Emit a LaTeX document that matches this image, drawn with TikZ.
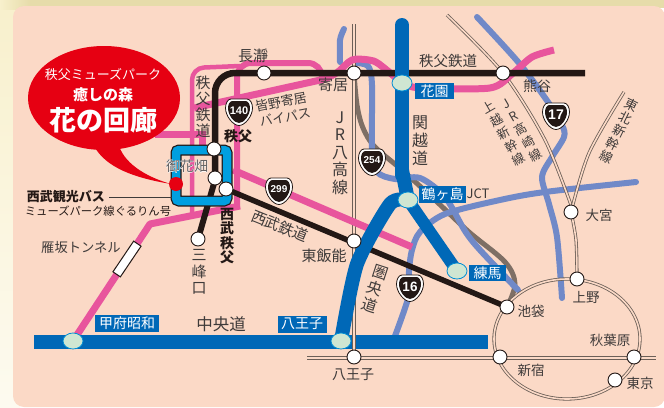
\documentclass[tikz,border=0pt]{standalone}
\usepackage{fontspec}
\setmainfont{Noto Sans CJK JP}
\newfontfamily\numfont{Liberation Sans}
\usetikzlibrary{shapes.geometric}
\pgfdeclarelayer{lines}
\pgfsetlayers{lines,main}
\definecolor{panel}{HTML}{FBD9C6}
\definecolor{creamA}{HTML}{E6DCAA}
\definecolor{creamB}{HTML}{F8F0CC}
\definecolor{pinkr}{HTML}{E8559D}
\definecolor{exblue}{HTML}{0068B7}
\definecolor{rdblue}{HTML}{7089C8}
\definecolor{brownr}{HTML}{7E6F65}
\definecolor{jrline}{HTML}{6B5F57}
\definecolor{blk}{HTML}{231815}
\definecolor{txt}{HTML}{3E3A39}
\definecolor{redc}{HTML}{E60012}
\definecolor{icg}{HTML}{CFE6D2}
\definecolor{cyanb}{HTML}{009FE0}
\newcommand\fs[1]{\fontsize{#1}{#1}\selectfont}
\newcommand\fsb[2]{\fontsize{#1}{#2}\selectfont}
\newcommand\halotext[1]{\rlap{\addfontfeature{FakeBold=4}\color{white}#1}#1}
\newcommand\shield[5]{%
  \begin{scope}[shift={(#2,#3)}]
    \fill[white,draw=blk,line width=.8pt] (-8,-13) -- (8,-13) .. controls (11,-13) and (13.5,-9) .. (13.5,-4) .. controls (13.5,4) and (6,13.5) .. (0,13.5) .. controls (-6,13.5) and (-13.5,4) .. (-13.5,-4) .. controls (-13.5,-9) and (-11,-13) .. (-8,-13) -- cycle;
    \fill[blk] (-6.5,-11) -- (6.5,-11) .. controls (9,-11) and (11,-8) .. (11,-4) .. controls (11,3) and (5,11) .. (0,11) .. controls (-5,11) and (-11,3) .. (-11,-4) .. controls (-11,-8) and (-9,-11) .. (-6.5,-11) -- cycle;
    \node[text=white,inner sep=0pt,font=\numfont\bfseries\fontsize{#5}{#5}\selectfont] (#1) at (0,-1.5) {#4};
  \end{scope}}
\tikzset{
  station/.style={circle,draw=blk,fill=white,line width=.9pt,minimum size=14pt,inner sep=0pt},
  ic/.style={ellipse,draw=cyanb!70!exblue,fill=icg,line width=.8pt,minimum width=20pt,minimum height=16pt,inner sep=0pt},
  pinkline/.style={draw=pinkr,line width=7pt},
  pinkthin/.style={draw=pinkr,line width=4.5pt},
  exway/.style={draw=exblue,line width=14pt},
  natroad/.style={draw=rdblue,line width=6pt,line cap=round},
  jr/.style={draw=jrline,line width=.8pt,double=panel,double distance=1.6pt},
  icbox/.style={fill=exblue,text=white,inner sep=0pt,minimum height=17pt,font=\fs{14}},
  lab/.style={text=txt,inner sep=0pt,font=\fs{14}},
  stack/.style={text=txt,inner sep=0pt,align=center}
}
\begin{document}
\begin{tikzpicture}[x=1pt,y=-1pt]
\useasboundingbox (0,0) rectangle (664,407);
% stations
\node[station] (nagatoro) at (264,73) {};
\node[station] (yorii) at (354,73) {};
\node[station] (kumagaya) at (503,73) {};
\node[station] (chichibu) at (214,149) {};
\node[station] (ohanabatake) at (215,178) {};
\node[station] (seibuch) at (226,189) {};
\node[station] (mitsumine) at (198,239) {};
\node[station] (higashihanno) at (354,241) {};
\node[station] (omiya) at (571,212) {};
\node[station] (ueno) at (577,279) {};
\node[station] (ikebukuro) at (507,307) {};
\node[station] (hachiojist) at (354,357) {};
\node[station] (shinjuku) at (500,357) {};
\node[station] (akihabara) at (634,357) {};
\node[station] (tokyo) at (615,380) {};
\node[ic] (hanazono) at (402,83) {};
\node[ic] (tsurugashima) at (408,200) {};
\node[ic] (nerima) at (457,271) {};
\node[ic] (hachioji) at (341,341) {};
\node[ic] (kofu) at (73,341) {};
\begin{pgfonlayer}{lines}
% background
\shade[top color=creamB,bottom color=white!70!creamB] (0,0) rectangle (20,407);
\fill[creamA] (0,0) rectangle (664,8);
\shade[left color=creamB,right color=creamA] (0,0) rectangle (30,9);
\fill[panel,rounded corners=11pt] (13,6) rectangle (665,407);
% brown road
\draw[brownr,line width=5pt] plot[smooth,tension=.55] coordinates {(yorii.center) (357,105) (363,128) (375,147) (402,170) (435,200) (469,232) (505,262) (515,284) (ikebukuro.center)};
% national roads
\draw[natroad] plot[smooth,tension=.5] coordinates {(344,29) (340,40) (340,62)};
\draw[natroad] plot[smooth,tension=.5] coordinates {(355,63) (368,66) (372,85) (372,150) (377,172) (395,179) (420,178) (445,197) (465,231) (480,250) (518,290)};
\draw[natroad] plot[smooth,tension=.5] coordinates {(636,182) (545,192) (500,200) (445,214) (420,232) (412,250) (409,271) (409,295) (395,336)};
\draw[natroad] plot[smooth,tension=.5] coordinates {(477,17) (519,63) (548,102) (562,125) (564,137) (552,157) (542,177) (549,204) (557,237) (562,298)};
% JR lines
\draw[jr] (354,24) -- (hachiojist.center);
\draw[jr] (307,358) -- (656,358);
\draw[jr] (567,339) ellipse [x radius=73, y radius=60];
\draw[jr] plot[smooth,tension=.5] coordinates {(447,15) (kumagaya.center) (545,140) (571,205)};
\draw[jr] plot[smooth,tension=.5] coordinates {(624,92) (589,153) (omiya.center)};
\draw[jr] plot[smooth,tension=.5] coordinates {(omiya.center) (576,240) (ueno.center)};
% pink toll roads
\draw[pinkline] (155,134) -- (202,134) -- (202,150);
\draw[pinkthin,rounded corners=12pt] (192,214) -- (192,68) -- (240,66);
\draw[pinkline,line width=6pt,rounded corners=14pt] (237,207) -- (237,63) -- (322,63) -- (322,80);
\draw[pinkline] (194,108) -- (325,79);
\draw[pinkline] plot[smooth,tension=.5] coordinates {(325,79) (338,72) (352,60) (369,60) (379,64) (hanazono.center)};
\draw[pinkline] plot[smooth,tension=.45] coordinates {(hanazono.center) (420,88) (490,88) (512,74) (532,57) (554,50)};
\draw[pinkline] (233,170) -- (412,247);
\draw[pinkline,line join=round] (240,206) -- (150,224) -- (kofu.center);
% black
\draw[blk,line width=6.5pt,rounded corners=20pt] (585,73) -- (215,73) -- (215,180);
\draw[blk,line width=6pt] (215,180) -- (mitsumine.center);
\draw[blk,line width=5.5pt] (seibuch.center) -- (ikebukuro.center);
% expressways
\draw[exway,line cap=round] (402,25) -- (402,175);
\draw[exway] plot[smooth,tension=.5] coordinates {(402,170) (tsurugashima.center)};
\draw[exway] plot[smooth,tension=.4] coordinates {(hachioji.center) (357,264) (390,204) (tsurugashima.center)};
\draw[exway,line width=12pt] (tsurugashima.center) -- (nerima.center);
\draw[exway] (34,342) -- (488,342);
\draw[jr] (354,325) -- (hachiojist.center);
% tunnel
\node[draw=blk,fill=white,line width=1pt,minimum width=37pt,minimum height=9pt,inner sep=0pt,rotate=56] (tunnel) at (127,259) {};
% square around the station group
\draw[blk,line width=11pt,rounded corners=3pt] (176,150) rectangle (227,201);
\draw[cyanb,line width=8.5pt,rounded corners=3pt] (176,150) rectangle (227,201);
\end{pgfonlayer}
\shield{r140}{239}{112}{140}{11}
\shield{r254}{372}{162}{254}{10}
\shield{r17}{556}{116}{17}{14}
\shield{r16}{410}{288}{16}{13.5}
\shield{r299}{279}{191}{299}{10}
% callout
\fill[redc] (104,98) ellipse [x radius=76, y radius=52];
\fill[redc] (94,146) .. controls (106,168) and (135,178) .. (171,184) .. controls (150,178) and (126,166) .. (119,146) -- cycle;
\node[circle,fill=redc,minimum size=14pt,inner sep=0pt] (reddot) at (176,184) {};
\node[text=white,inner sep=0pt,font=\fs{13}] (t1) at (103,75) {秩父ミューズパーク};
\node[text=white,inner sep=0pt,font=\bfseries\fs{15}] (t2) at (103,95) {癒しの森};
\node[text=white,inner sep=0pt,font=\bfseries\fs{27}] (t3) at (103,120) {花の回廊};
% labels
\node[lab,font=\fs{15}] (lnag) at (253,56) {長瀞};
\node[lab,font=\fs{15}] (lyor) at (333,85) {寄居};
\node[stack,font=\fsb{15}{16}] (lcv) at (203,107) {秩\\父\\鉄\\道};
\node[lab,font=\fs{13},rotate=11] (lb1) at (281,102) {皆野寄居};
\node[lab,font=\fs{13},rotate=11] (lb2) at (285,117) {バイパス};
\node[lab,text=blk,font=\bfseries\fs{14}] (lch) at (238,136) {秩父};
\node[lab,text=txt!80!white,font=\fs{14}] (loh) at (187,166) {\halotext{御花畑}};
\node[lab,text=blk,font=\bfseries\fs{13}] (lsb1) at (66,197) {西武観光バス};
\coordinate (busl) at (109,197);
\draw[txt,line width=.7pt] (busl) -- (172,197);
\node[lab,text=blk,font=\fs{11.3}] (lsb2) at (98,211) {ミューズパーク線ぐるりん号};
\node[lab,font=\fs{13.3}] (ltn) at (81,247) {雁坂トンネル};
\node[stack,font=\fsb{15}{16.5}] (lmi) at (199,272) {三\\峰\\口};
\node[stack,text=blk,font=\bfseries\fsb{14}{14.5}] (lse) at (227,236) {西\\武\\秩\\父};
\node[lab,font=\fs{15},rotate=-22] (lsr) at (280,226) {西武鉄道};
\node[lab,font=\fs{15}] (lhh) at (324,256) {東飯能};
\node[lab,font=\fs{16.5}] (lcd) at (221,324) {中央道};
\node[icbox,minimum width=64pt] (bk) at (127,323) {甲府昭和};
\node[icbox,minimum width=49pt] (bh) at (302,324) {八王子};
\node[lab,font=\fs{14}] (lha) at (353,375) {八王子};
\node[stack,font=\fsb{16}{17.5}] (ljr) at (340,153) {J\\R\\八\\高\\線};
\node[stack,font=\fsb{16}{18}] (lkd) at (420,141) {関\\越\\道};
\node[lab,font=\fs{14.5}] (lcr) at (448,61) {秩父鉄道};
\node[lab,font=\fs{14}] (lku) at (537,86) {熊谷};
\node[stack,font=\fsb{12.5}{15},rotate=30] (lta) at (521,130) {J\\R\\高\\崎\\線};
\node[stack,font=\fsb{12.5}{15},rotate=30] (ljo) at (504,133) {上\\越\\新\\幹\\線};
\node[stack,font=\fsb{13}{14.3},rotate=-26] (ltb) at (619,131) {東\\北\\新\\幹\\線};
\node[lab,font=\fs{13.5}] (lom) at (599,215) {大宮};
\node[lab,font=\fs{13.5}] (lue) at (586,297) {上野};
\node[lab,font=\fs{13.5}] (lik) at (531,311) {池袋};
\node[lab,font=\fs{13.5}] (lsh) at (531,370) {新宿};
\node[lab,font=\fs{13.5}] (lak) at (610,340) {秋葉原};
\node[lab,font=\fs{13.5}] (lto) at (640,383) {東京};
\node[stack,font=\fsb{15.5}{17},rotate=-18] (lke) at (375,289) {圏\\央\\道};
\node[icbox,minimum width=39pt,minimum height=16pt] (bha) at (434.5,91) {花園};
\node[icbox,minimum width=47pt] (bts) at (442.5,194) {鶴ヶ島};
\node[lab,font=\fs{13}] (ljc) at (478,194) {JCT};
\node[icbox,minimum width=37pt,minimum height=16pt] (bne) at (487.5,273) {練馬};
\end{tikzpicture}
\end{document}
